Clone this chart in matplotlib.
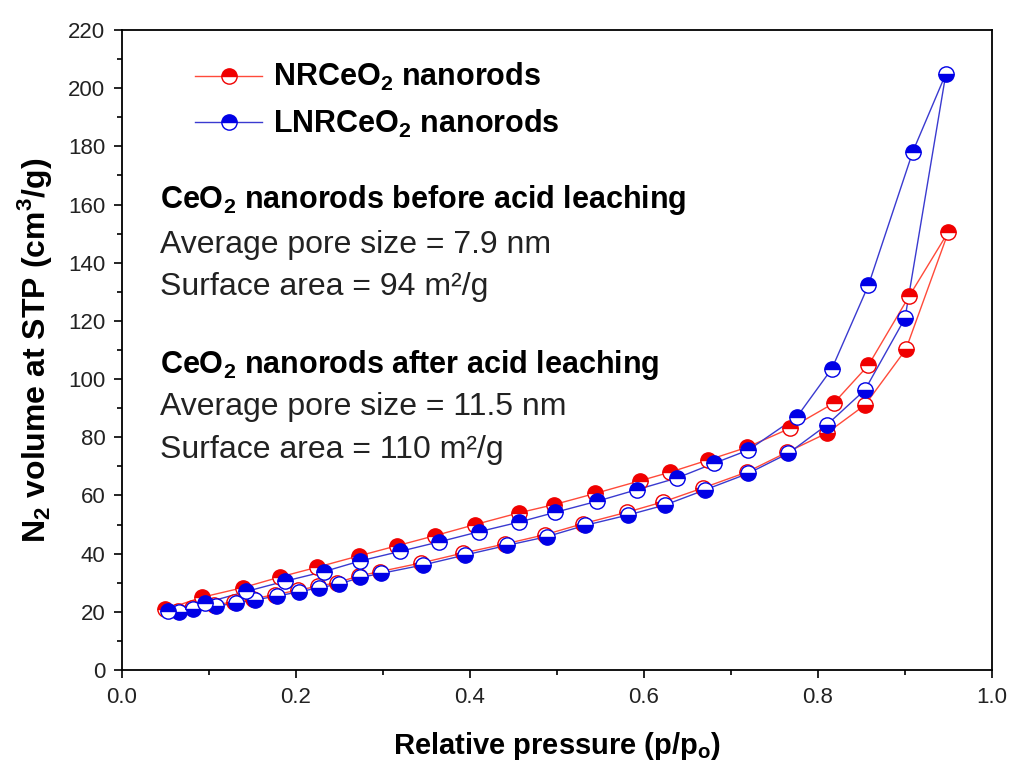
import matplotlib
matplotlib.use("Agg")
import matplotlib.pyplot as plt
from matplotlib.lines import Line2D
from matplotlib.ticker import MultipleLocator, FormatStrFormatter

plt.rcParams['font.family'] = ['Liberation Sans', 'DejaVu Sans']
plt.rcParams['mathtext.fontset'] = 'custom'
plt.rcParams['mathtext.rm'] = 'Liberation Sans'
plt.rcParams['mathtext.bf'] = 'Liberation Sans:bold'

# ---- data ----
# NRCeO2 nanorods (red)
nr_ads_x = [0.064, 0.080, 0.106, 0.129, 0.151, 0.176, 0.202, 0.225, 0.247, 0.272, 0.296, 0.344,
            0.392, 0.440, 0.486, 0.530, 0.580, 0.622, 0.668, 0.718, 0.764, 0.810, 0.854, 0.901]
nr_ads_y = [20.2, 21.2, 22.4, 23.4, 24.5, 25.9, 27.4, 28.8, 30.0, 32.3, 33.8, 36.8,
            40.2, 43.3, 46.5, 50.3, 54.2, 57.8, 62.6, 68.0, 74.8, 81.4, 91.1, 110.2]
nr_des_x = [0.950, 0.905, 0.858, 0.818, 0.768, 0.718, 0.674, 0.630, 0.595, 0.544, 0.496, 0.456,
            0.406, 0.360, 0.316, 0.272, 0.224, 0.182, 0.139, 0.092, 0.050]
nr_des_y = [150.7, 128.6, 104.8, 91.7, 83.1, 76.5, 72.2, 68.0, 65.0, 60.7, 56.8, 54.0,
            50.0, 46.2, 42.7, 39.2, 35.3, 32.0, 28.3, 25.0, 20.8]

# LNRCeO2 nanorods (blue)
lnr_ads_x = [0.066, 0.082, 0.108, 0.131, 0.153, 0.178, 0.204, 0.227, 0.249, 0.274, 0.298, 0.346,
             0.394, 0.442, 0.488, 0.532, 0.582, 0.624, 0.670, 0.720, 0.766, 0.810, 0.854, 0.900, 0.947]
lnr_ads_y = [20.0, 20.9, 22.0, 22.9, 24.1, 25.4, 26.9, 28.3, 29.5, 31.8, 33.2, 36.1,
             39.5, 42.8, 45.8, 49.7, 53.3, 56.7, 61.9, 67.6, 74.5, 84.2, 96.3, 120.9, 205.0]
lnr_des_x = [0.909, 0.858, 0.816, 0.776, 0.720, 0.680, 0.638, 0.592, 0.546, 0.498, 0.456,
             0.410, 0.364, 0.320, 0.274, 0.232, 0.187, 0.143, 0.095, 0.053]
lnr_des_y = [178.2, 132.3, 103.6, 87.1, 75.6, 71.0, 66.0, 62.0, 58.0, 54.2, 50.8,
             47.5, 44.0, 40.8, 37.5, 33.8, 30.5, 27.0, 23.0, 20.3]

labels = [r'NRCeO$_\mathbf{2}$ nanorods', r'LNRCeO$_\mathbf{2}$ nanorods']

RED_L, RED_M = '#ff4a3a', '#f00000'
BLUE_L, BLUE_M = '#3a3ad0', '#0000e6'

fig = plt.figure(figsize=(10.14, 7.74), dpi=100)
ax = fig.add_axes([0.1203, 0.1344, 0.8580, 0.8268])

ms = 11
def draw(ads_x, ads_y, des_x, des_y, lc, mc, top_in_ads):
    if top_in_ads:
        tx, ty = ads_x[-1], ads_y[-1]
        ax.plot(ads_x, ads_y, '-', color=lc, lw=1.0, zorder=2)
        ax.plot([tx] + des_x, [ty] + des_y, '-', color=lc, lw=1.0, zorder=2)
    else:
        tx, ty = des_x[0], des_y[0]
        ax.plot(ads_x + [tx], ads_y + [ty], '-', color=lc, lw=1.0, zorder=2)
        ax.plot(des_x, des_y, '-', color=lc, lw=1.0, zorder=2)
    ax.plot(ads_x, ads_y, 'o', ls='none', ms=ms, fillstyle='bottom', markerfacecolor=mc,
            markerfacecoloralt='white', markeredgecolor=mc, mew=1.0, zorder=3)
    ax.plot(des_x, des_y, 'o', ls='none', ms=ms, fillstyle='top', markerfacecolor=mc,
            markerfacecoloralt='white', markeredgecolor=mc, mew=1.0, zorder=3)

draw(nr_ads_x, nr_ads_y, nr_des_x, nr_des_y, RED_L, RED_M, False)
draw(lnr_ads_x, lnr_ads_y, lnr_des_x, lnr_des_y, BLUE_L, BLUE_M, True)

ax.set_xlim(0, 1.0)
ax.set_ylim(0, 220)
ax.xaxis.set_major_locator(MultipleLocator(0.2))
ax.xaxis.set_minor_locator(MultipleLocator(0.1))
ax.yaxis.set_major_locator(MultipleLocator(20))
ax.yaxis.set_minor_locator(MultipleLocator(10))
ax.tick_params(which='both', direction='out', top=False, right=False, width=1.2,
               labelsize=16, labelcolor='#222222')
ax.tick_params(which='major', length=6, pad=6)
ax.tick_params(which='minor', length=3.5)
for s in ax.spines.values():
    s.set_linewidth(1.3)
ax.xaxis.set_major_formatter(FormatStrFormatter('%.1f'))

ax.set_xlabel(r'Relative pressure (p/p$_\mathbf{o}$)', fontsize=21, fontweight='bold', labelpad=16)
ax.set_ylabel(r'N$_\mathbf{2}$ volume at STP (cm$^\mathbf{3}$/g)', fontsize=23, fontweight='bold', labelpad=10)

handles = [
    Line2D([], [], color=RED_L, lw=1.0, marker='o', ms=ms, fillstyle='top', markerfacecolor=RED_M,
           markerfacecoloralt='white', markeredgecolor=RED_M),
    Line2D([], [], color=BLUE_L, lw=1.0, marker='o', ms=ms, fillstyle='top', markerfacecolor=BLUE_M,
           markerfacecoloralt='white', markeredgecolor=BLUE_M),
]
leg = ax.legend(handles, labels, loc='upper left', bbox_to_anchor=(0.084, 0.951), frameon=False,
                prop={'weight': 'bold', 'size': 22}, handlelength=2.2, handletextpad=0.35,
                labelspacing=0.48, borderpad=0, borderaxespad=0)

tx = 0.044
ax.text(tx, 161.5, r'CeO$_\mathbf{2}$ nanorods before acid leaching', fontsize=22, fontweight='bold', va='center')
ax.text(tx, 146.0, 'Average pore size = 7.9 nm', fontsize=23, va='center', color='#222222')
ax.text(tx, 131.7, 'Surface area = 94 m²/g', fontsize=23, va='center', color='#222222')
ax.text(tx, 104.8, r'CeO$_\mathbf{2}$ nanorods after acid leaching', fontsize=22, fontweight='bold', va='center')
ax.text(tx, 90.4, 'Average pore size = 11.5 nm', fontsize=23, va='center', color='#222222')
ax.text(tx, 75.6, 'Surface area = 110 m²/g', fontsize=23, va='center', color='#222222')

fig.savefig('out.png', dpi=100)
